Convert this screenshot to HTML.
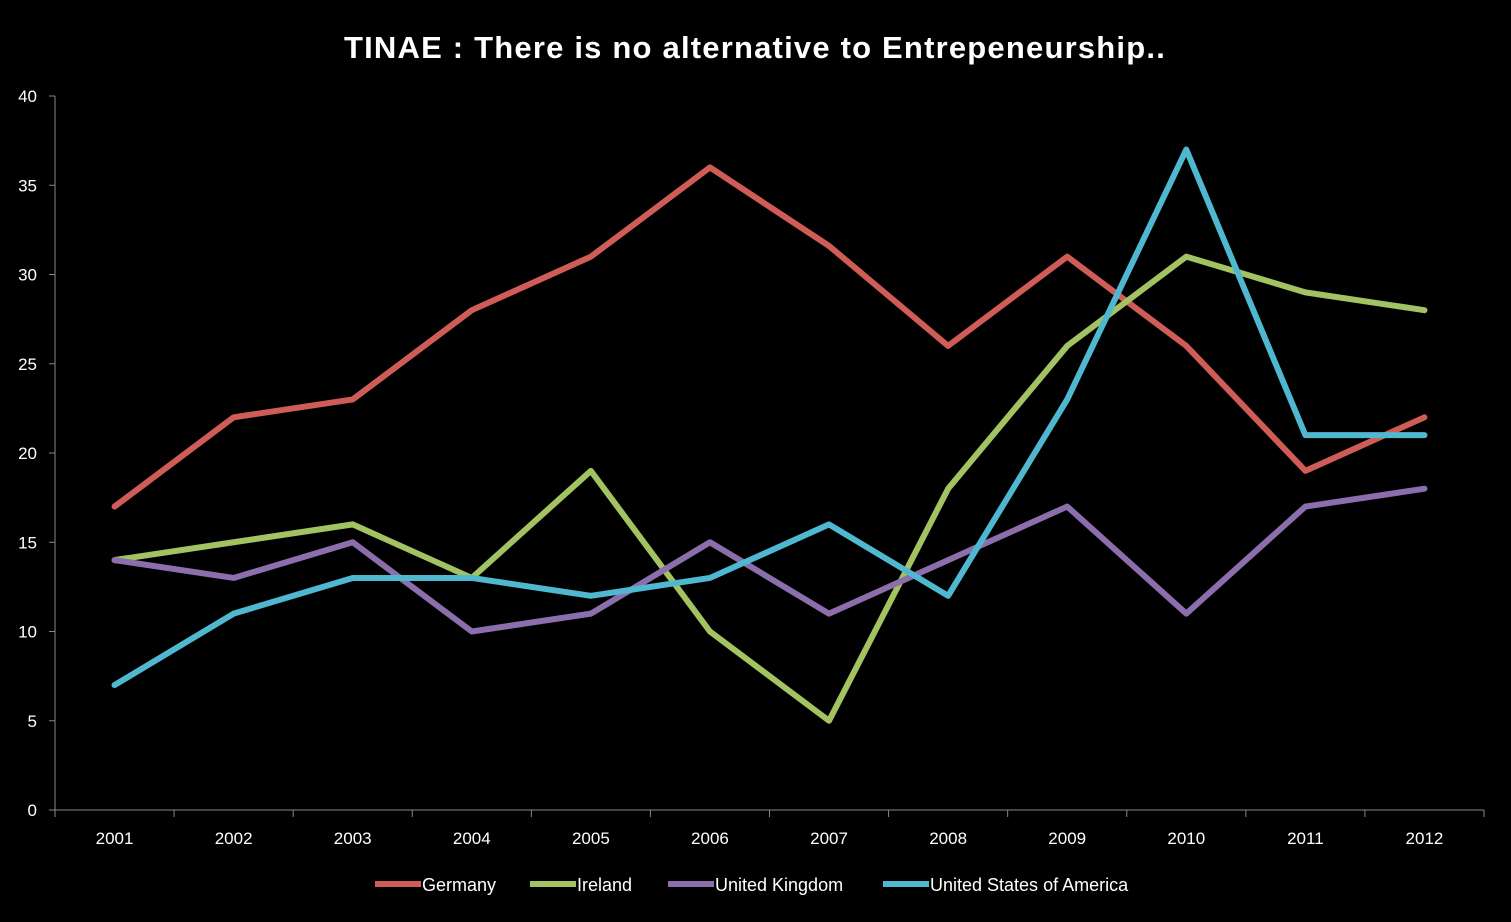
<!DOCTYPE html>
<html><head><meta charset="utf-8"><style>
html,body{margin:0;padding:0;background:#000;width:1511px;height:922px;overflow:hidden}
svg{display:block}
text{font-family:"Liberation Sans",sans-serif;fill:#fff}
</style></head><body>
<svg id="chart" width="1511" height="922" xmlns="http://www.w3.org/2000/svg">
<text x="755" y="58" text-anchor="middle" font-size="31" font-weight="bold" letter-spacing="1.2">TINAE : There is no alternative to Entrepeneurship..</text>
<g id="axes"></g><g id="series"></g><g id="legend"></g>
</svg>
<script>
const categories=["2001","2002","2003","2004","2005","2006","2007","2008","2009","2010","2011","2012"];
const yTicks=[0,5,10,15,20,25,30,35,40];
const germany=[17,22,23,28,31,36,31.6,26,31,26,19,22];
const ireland=[14,15,16,13,19,10,5,18,26,31,29,28];
const uk=[14,13,15,10,11,15,11,14,17,11,17,18];
const usa=[7,11,13,13,12,13,16,12,23,37,21,21];
const seriesNames=["Germany","Ireland","United Kingdom","United States of America"];
const seriesColors=["#cf5c57","#a3c262","#8b6eab","#4fb7cf"];
const allSeries=[germany,ireland,uk,usa];
const NS="http://www.w3.org/2000/svg";
const x0=55,x1=1484,yTop=96,yBot=810;
const step=(x1-x0)/categories.length;
const xs=i=>x0+step*(i+0.5);
const ys=v=>yBot-(v/40)*(yBot-yTop);
function mk(t,a,p){const e=document.createElementNS(NS,t);for(const k in a)e.setAttribute(k,a[k]);p.appendChild(e);return e;}
const axes=document.getElementById('axes');
const ya=mk('line',{x1:x0,y1:yTop,x2:x0,y2:yBot,stroke:'#888','stroke-width':1},axes);


const xa=mk('line',{x1:x0,y1:yBot,x2:x1,y2:yBot,stroke:'#888','stroke-width':1},axes);


yTicks.forEach(v=>{
  mk('line',{x1:x0-6,y1:ys(v),x2:x0,y2:ys(v),stroke:'#888'},axes);
  const t=mk('text',{x:x0-18,y:ys(v)+6,'text-anchor':'end','font-size':17},axes);
  t.textContent=v;
  
  
});
for(let k=0;k<=categories.length;k++){mk('line',{x1:x0+step*k,y1:yBot,x2:x0+step*k,y2:yBot+7,stroke:'#888'},axes);}
categories.forEach((c,i)=>{
  const t=mk('text',{x:xs(i),y:844,'text-anchor':'middle','font-size':17},axes);
  t.textContent=c;
  
  
});
const sg=document.getElementById('series');
allSeries.forEach((s,j)=>{
  const p=mk('polyline',{points:s.map((v,i)=>xs(i)+','+ys(v)).join(' '),fill:'none',stroke:seriesColors[j],'stroke-width':6,'stroke-linejoin':'round','stroke-linecap':'round'},sg);
  
  
});
const lg=document.getElementById('legend');
const lx=[375,530,668,883];
seriesNames.forEach((n,j)=>{
  const g=mk('g',{},lg);
  
  
  mk('line',{x1:lx[j],y1:884,x2:lx[j]+46,y2:884,stroke:seriesColors[j],'stroke-width':6},g);
  const t=mk('text',{x:lx[j]+47,y:891,'font-size':18},g);
  t.textContent=n;
});
</script>
</body></html>
